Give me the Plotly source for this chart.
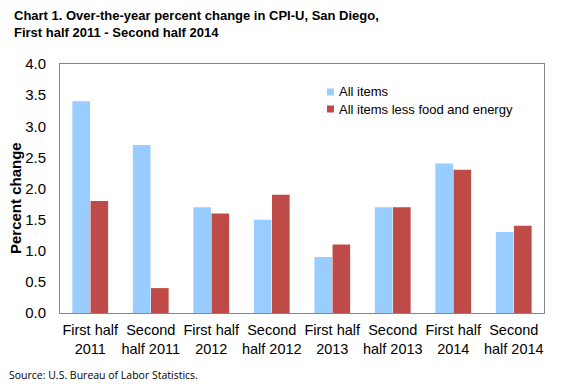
import plotly.graph_objects as go

categories = ["First half<br>2011", "Second<br>half 2011", "First half<br>2012", "Second<br>half 2012",
              "First half<br>2013", "Second<br>half 2013", "First half<br>2014", "Second<br>half 2014"]
all_items = [3.4, 2.7, 1.7, 1.5, 0.9, 1.7, 2.4, 1.3]
less_food_energy = [1.8, 0.4, 1.6, 1.9, 1.1, 1.7, 2.3, 1.4]
y_ticks = [0.0, 0.5, 1.0, 1.5, 2.0, 2.5, 3.0, 3.5, 4.0]
series_names = ["All items", "All items less food and energy"]
series_colors = ["#99CCFF", "#BE4B48"]

font_main = "Liberation Sans, Arial, sans-serif"

FW, FH = 576, 384
OFF = 8  # page body margin offset
# plot area in window pixels
L, R, T, B = 60, 544, 64, 313
W, H = R - L, B - T


def px(x):
    return (x - L) / W


def py(y):
    return (B - y) / H


fig = go.Figure()
fig.add_trace(go.Bar(x=categories, y=all_items, name=series_names[0], marker_color=series_colors[0],
                     marker_line_width=0, showlegend=False))
fig.add_trace(go.Bar(x=categories, y=less_food_energy, name=series_names[1],
                     marker_color=series_colors[1], marker_line_width=0, showlegend=False))

fig.update_layout(
    width=FW, height=FH,
    margin=dict(l=L - OFF, r=FW - (R - OFF), t=T - OFF, b=FH - (B - OFF)),
    paper_bgcolor="white", plot_bgcolor="white",
    barmode="group", bargap=0.4, bargroupgap=0.03,
    font=dict(family=font_main, color="black", size=14),
    showlegend=False,
)
fig.update_xaxes(showline=True, linecolor="#868686", linewidth=1, mirror=True, ticks="",
                 automargin=False, ticklabelstandoff=4,
                 tickfont=dict(family=font_main, size=14.5))
fig.update_yaxes(range=[0, 4.0], tickvals=y_ticks, ticktext=[f"{v:.1f}" for v in y_ticks],
                 showline=True, linecolor="#868686", linewidth=1, mirror=True, showgrid=False,
                 ticks="", zeroline=False, automargin=False, ticklabelstandoff=10,
                 tickfont=dict(family=font_main, size=15))

annotations = [
    dict(text="<b>Chart 1. Over-the-year percent change in CPI-U, San Diego,<br>First half 2011 - Second half 2014</b>",
         x=px(12), y=py(6), xanchor="left", yanchor="top", align="left",
         font=dict(family=font_main, size=13, color="black")),
    dict(text="<b>Percent change</b>", x=px(15), y=py(198), textangle=-90,
         xanchor="center", yanchor="middle",
         font=dict(family=font_main, size=15, color="black")),
    dict(text="Source: U.S. Bureau of Labor Statistics.", x=px(7), y=py(375),
         xanchor="left", yanchor="middle",
         font=dict(family="Open Sans, sans-serif", size=10.5, color="black")),
]
shapes = []
for i, (nm, col) in enumerate(zip(series_names, series_colors)):
    cy = 92 + 17 * i
    annotations.append(dict(text=nm, x=px(337), y=py(cy), xanchor="left", yanchor="middle",
                            font=dict(family=font_main, size=13, color="black")))
    shapes.append(dict(type="rect", xref="paper", yref="paper", x0=px(327), x1=px(334),
                       y0=py(cy + 3.5), y1=py(cy - 3.5), fillcolor=col, line=dict(width=0)))

for a in annotations:
    a.update(xref="paper", yref="paper", showarrow=False)
fig.update_layout(annotations=annotations, shapes=shapes)
fig.write_html("out.html")
